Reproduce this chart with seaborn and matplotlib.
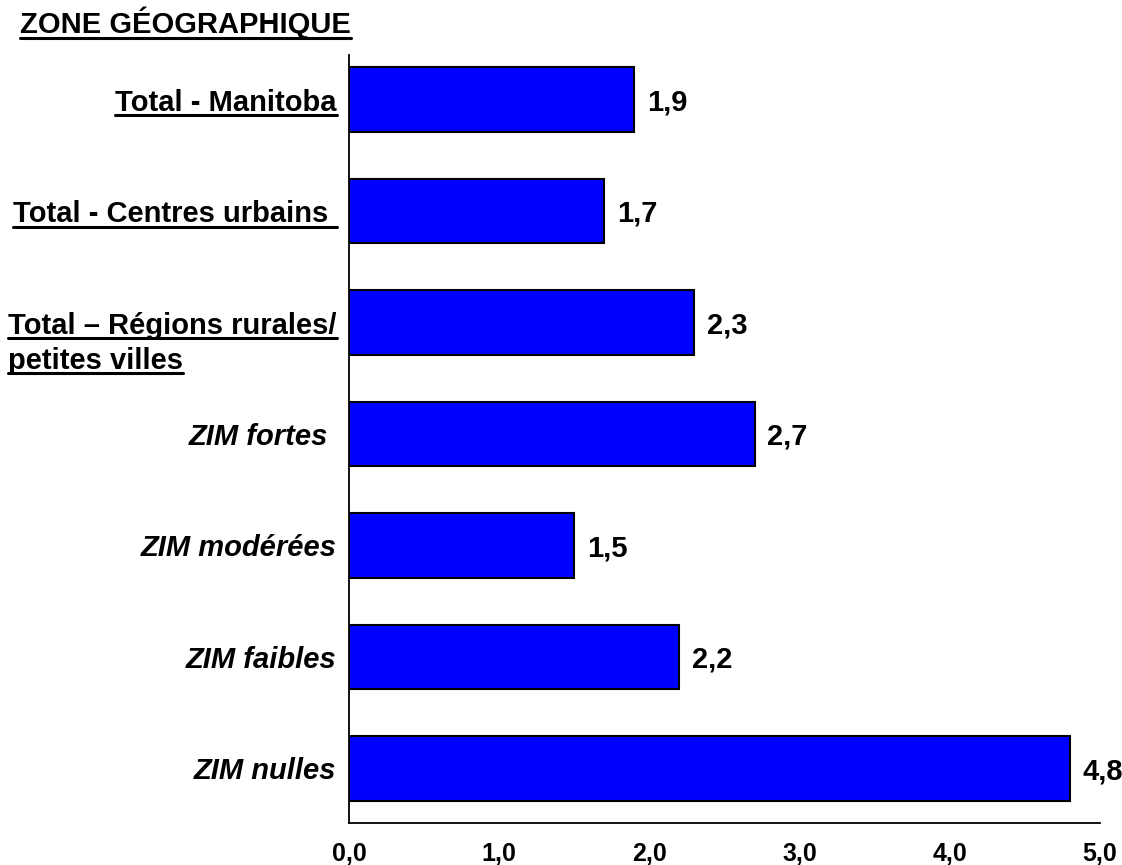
import matplotlib
matplotlib.use('Agg')
import matplotlib.pyplot as plt
import matplotlib.transforms as mtransforms
from matplotlib.lines import Line2D
import seaborn as sns

categories = ['Total - Manitoba', 'Total - Centres urbains ', 'Total – Régions rurales/',
              'ZIM fortes ', 'ZIM modérées', 'ZIM faibles', 'ZIM nulles']
values = [1.9, 1.7, 2.3, 2.7, 1.5, 2.2, 4.8]
x_ticks = [0, 1, 2, 3, 4, 5]
x_tick_labels = ['0,0', '1,0', '2,0', '3,0', '4,0', '5,0']
title = 'ZONE GÉOGRAPHIQUE'
second_line = 'petites villes'

sns.set_style('white')
plt.rcParams['font.family'] = ['Liberation Sans', 'DejaVu Sans']
plt.rcParams['text.color'] = 'black'
plt.rcParams['xtick.color'] = 'black'
plt.rcParams['ytick.color'] = 'black'
plt.rcParams['axes.labelcolor'] = 'black'

fig = plt.figure(figsize=(11.22, 8.65), dpi=100)
ax = fig.add_axes([349 / 1122, 42 / 865, 751 / 1122, 768 / 865])

sns.barplot(x=values, y=categories, orient='h', color='#0000FF', saturation=1,
            width=0.58, edgecolor='black', linewidth=1.5, ax=ax)

ax.set_xlim(0, 5)
ax.set_ylim(6.49, -0.4)
ax.set_xticks(x_ticks)
ax.set_xticklabels(x_tick_labels, fontsize=18, fontweight='bold')
ax.tick_params(axis='x', length=0, pad=14)
ax.tick_params(axis='y', length=0, pad=9)
ax.set_xlabel('')
ax.set_ylabel('')
for s in ['top', 'right']:
    ax.spines[s].set_visible(False)
for s in ['left', 'bottom']:
    ax.spines[s].set_color('black')
    ax.spines[s].set_linewidth(1.3)

ytl = ax.get_yticklabels()
for i, lab in enumerate(ytl):
    lab.set_fontsize(21)
    lab.set_fontweight('bold')
    if i >= 3:
        lab.set_fontstyle('italic')

# value labels
for i, v in enumerate(values):
    ax.annotate(f'{v:.1f}'.replace('.', ','), xy=(v, i), xytext=(9, -2),
                textcoords='offset points', ha='left', va='center',
                fontsize=21, fontweight='bold')

title_txt = fig.text(20 / 1122, 1 - 33 / 865, title, fontsize=21, fontweight='bold',
                     ha='left', va='baseline')

fig.canvas.draw()
renderer = fig.canvas.get_renderer()

# second line of the rural label, left aligned under the first line
rbb = ytl[2].get_window_extent(renderer)
second = fig.text(rbb.x0 / fig.bbox.width, (rbb.y0 - 7) / fig.bbox.height, second_line,
                  fontsize=21, fontweight='bold', ha='left', va='top')
fig.canvas.draw()


def underline(t):
    bb = t.get_window_extent(renderer)
    y = (bb.y0 + 1.5) / fig.bbox.height
    fig.add_artist(Line2D([bb.x0 / fig.bbox.width, bb.x1 / fig.bbox.width], [y, y],
                          transform=fig.transFigure, color='black', linewidth=2.2))


for t in [title_txt, ytl[0], ytl[1], ytl[2], second]:
    underline(t)

fig.savefig('out.png', dpi=100)
